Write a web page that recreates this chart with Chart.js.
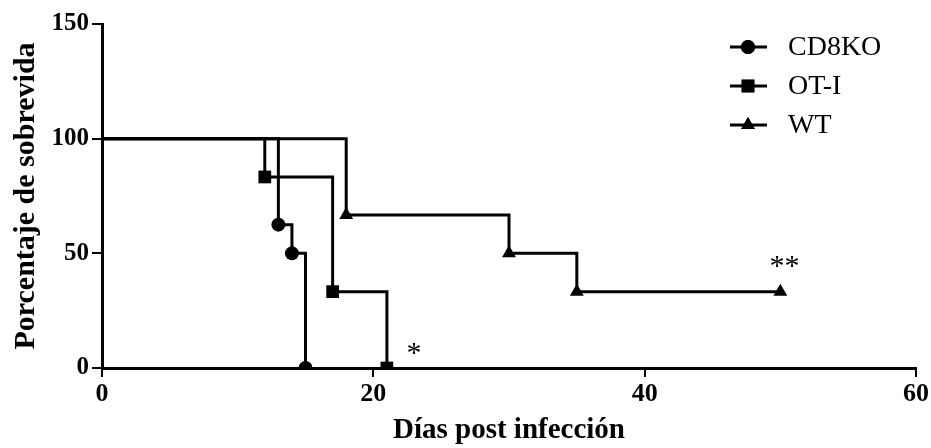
<!DOCTYPE html>
<html>
  <head>
    <meta charset="utf-8">
    <title>Supervivencia</title>
    <script src="https://cdn.jsdelivr.net/npm/chart.js@4.4.0/dist/chart.umd.min.js"></script>
    <style>
      body { margin: 0; background: #fff; }
      #wrap { width: 931px; height: 448px; position: relative; }
    </style>
  </head>
  <body>
    <div id="wrap"><canvas id="myChart"></canvas></div>

    <script type="text/javascript">
      // survival data (Kaplan-Meier steps)
      var cd8koDays = [0, 13, 14, 15];
      var cd8koSurv = [100, 62.5, 50, 0];
      var otiDays = [0, 12, 17, 21];
      var otiSurv = [100, 83.3, 33.3, 0];
      var wtDays = [0, 18, 30, 35, 50];
      var wtSurv = [100, 66.7, 50, 33.3, 33.3];

      var seriesNames = ['CD8KO', 'OT-I', 'WT'];
      var seriesStyles = ['circle', 'rect', 'triangle'];

      var xTicks = [0, 20, 40, 60];
      var yTicks = [0, 50, 100, 150];

      // significance marks: [day, percent, text]
      var marks = [[23, 6, '*'], [50.3, 44, '**']];

      function toPoints(days, surv) {
        var pts = [];
        for (var i = 0; i < days.length; i++) pts.push({x: days[i], y: surv[i]});
        return pts;
      }
      function radii(n, r) {
        var a = [0];
        for (var i = 1; i < n; i++) a.push(r);
        return a;
      }

      var serif = "'Liberation Serif', 'Times New Roman', serif";
      var radius = {circle: 7, rect: 9, triangle: 8};

      function makeSet(idx, days, surv) {
        var st = seriesStyles[idx];
        return {
          label: seriesNames[idx],
          data: toPoints(days, surv),
          stepped: true,
          borderColor: '#000',
          backgroundColor: '#000',
          borderWidth: 3,
          pointStyle: st,
          pointRadius: radii(days.length, radius[st]),
          pointBorderWidth: 0,
          fill: false
        };
      }

      var extras = {
        id: 'extras',
        afterDatasetsDraw: function(chart) {
          var ctx = chart.ctx;
          var xs = chart.scales.x, ys = chart.scales.y;
          ctx.save();
          ctx.fillStyle = '#000';
          ctx.font = "30px " + serif;
          ctx.textAlign = 'center';
          ctx.textBaseline = 'middle';
          marks.forEach(function(m) {
            ctx.fillText(m[2], xs.getPixelForValue(m[0]), ys.getPixelForValue(m[1]));
          });

          // legend: line with marker, then label
          ctx.font = "28px " + serif;
          ctx.textAlign = 'left';
          ctx.strokeStyle = '#000';
          ctx.lineWidth = 3;
          for (var i = 0; i < seriesNames.length; i++) {
            var y = 47 + i * 39;
            ctx.beginPath();
            ctx.moveTo(730, y);
            ctx.lineTo(767, y);
            ctx.stroke();
            var st = seriesStyles[i];
            Chart.helpers.drawPoint(ctx, {pointStyle: st, radius: radius[st], borderWidth: 0}, 748, y);
            ctx.fill();
            ctx.fillText(seriesNames[i], 788, y + 1);
          }
          ctx.restore();
        }
      };

      var ctx = document.getElementById('myChart').getContext('2d');
      var chart = new Chart(ctx, {
        type: 'line',
        data: {
          datasets: [
            makeSet(0, cd8koDays, cd8koSurv),
            makeSet(1, otiDays, otiSurv),
            makeSet(2, wtDays, wtSurv)
          ]
        },
        options: {
          responsive: true,
          maintainAspectRatio: false,
          animation: false,
          layout: { padding: { top: 24, right: 13, left: 0, bottom: 0 } },
          plugins: {
            legend: { display: false },
            tooltip: { enabled: false }
          },
          scales: {
            x: {
              type: 'linear',
              min: 0,
              max: 60,
              afterBuildTicks: function(s) { s.ticks = xTicks.map(function(v) { return {value: v}; }); },
              afterFit: function(s) { s.height = 80; },
              grid: { drawOnChartArea: false, color: '#000', lineWidth: 2, tickLength: 9 },
              border: { color: '#000', width: 3 },
              ticks: { color: '#000', font: { family: serif, size: 26, weight: 'bold' }, padding: 2, maxRotation: 0 },
              title: { display: true, text: 'Días post infección', color: '#000', font: { family: serif, size: 29, weight: 'bold' }, padding: { top: 0, bottom: 0 } }
            },
            y: {
              min: 0,
              max: 150,
              afterBuildTicks: function(s) { s.ticks = yTicks.map(function(v) { return {value: v}; }); },
              afterFit: function(s) { s.width = 102; },
              grid: { drawOnChartArea: false, color: '#000', lineWidth: 2, tickLength: 10 },
              border: { color: '#000', width: 3 },
              ticks: { color: '#000', font: { family: serif, size: 25, weight: 'bold' }, padding: 3 },
              title: { display: true, text: 'Porcentaje de sobrevida', color: '#000', font: { family: serif, size: 30, weight: 'bold' }, padding: { top: 8, bottom: 0 } }
            }
          }
        },
        plugins: [extras]
      });
    </script>
  </body>
</html>
